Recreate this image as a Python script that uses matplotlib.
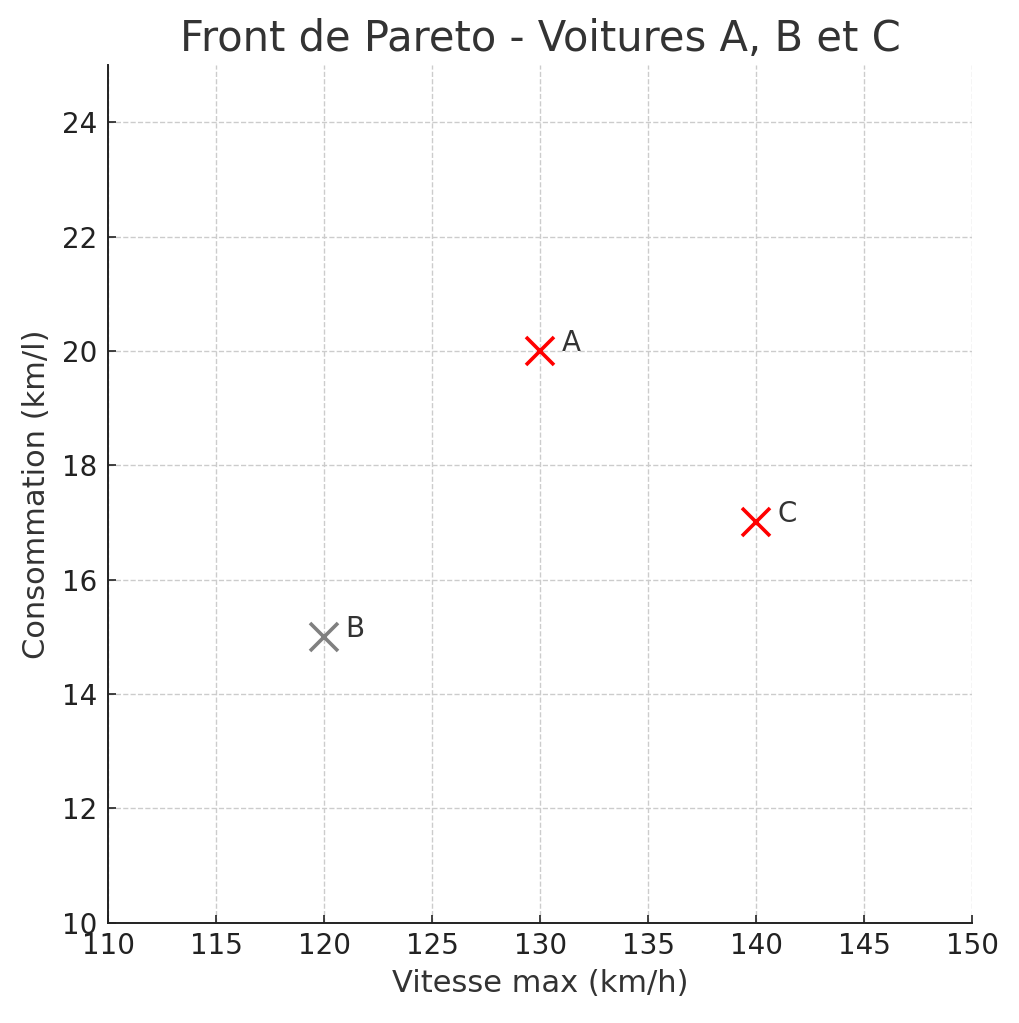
import matplotlib
matplotlib.use("Agg")
import matplotlib.pyplot as plt

# data
names = ["A", "B", "C"]
speeds = [130, 120, 140]
consumption = [20, 15, 17]
pareto = [True, False, True]

xticks = list(range(110, 151, 5))
yticks = list(range(10, 25, 2))

plt.rcParams["font.family"] = "DejaVu Sans"
plt.rcParams["text.color"] = "#333333"
plt.rcParams["axes.labelcolor"] = "#333333"
plt.rcParams["xtick.color"] = "#222222"
plt.rcParams["ytick.color"] = "#222222"

fig = plt.figure(figsize=(10.2, 10.23), dpi=100)
ax = fig.add_axes([0.106, 0.098, 0.847, 0.8385])

for name, x, y, front in zip(names, speeds, consumption, pareto):
    color = "red" if front else "gray"
    ax.plot(x, y, marker="x", color=color, markersize=20, mew=2.6, linestyle="none")
    ax.text(x + 1, y, name, fontsize=20, va="baseline", ha="left")

ax.set_xlim(110, 150)
ax.set_ylim(10, 25)
ax.set_xticks(xticks)
ax.set_yticks(yticks)
ax.tick_params(labelsize=20, direction="in", length=6, width=1.2)
ax.tick_params(axis="x", pad=7)
ax.tick_params(axis="y", pad=8)
ax.grid(True, linestyle="--", color="#cccccc", linewidth=1)
ax.set_axisbelow(True)
for side in ["top", "right"]:
    ax.spines[side].set_visible(False)
for side in ["left", "bottom"]:
    ax.spines[side].set_linewidth(1.4)
    ax.spines[side].set_color("#222222")

ax.set_xlabel("Vitesse max (km/h)", fontsize=22, labelpad=6)
ax.set_ylabel("Consommation (km/l)", fontsize=22, labelpad=8)
ax.set_title("Front de Pareto - Voitures A, B et C", fontsize=30, pad=10)

fig.savefig("out.png")
